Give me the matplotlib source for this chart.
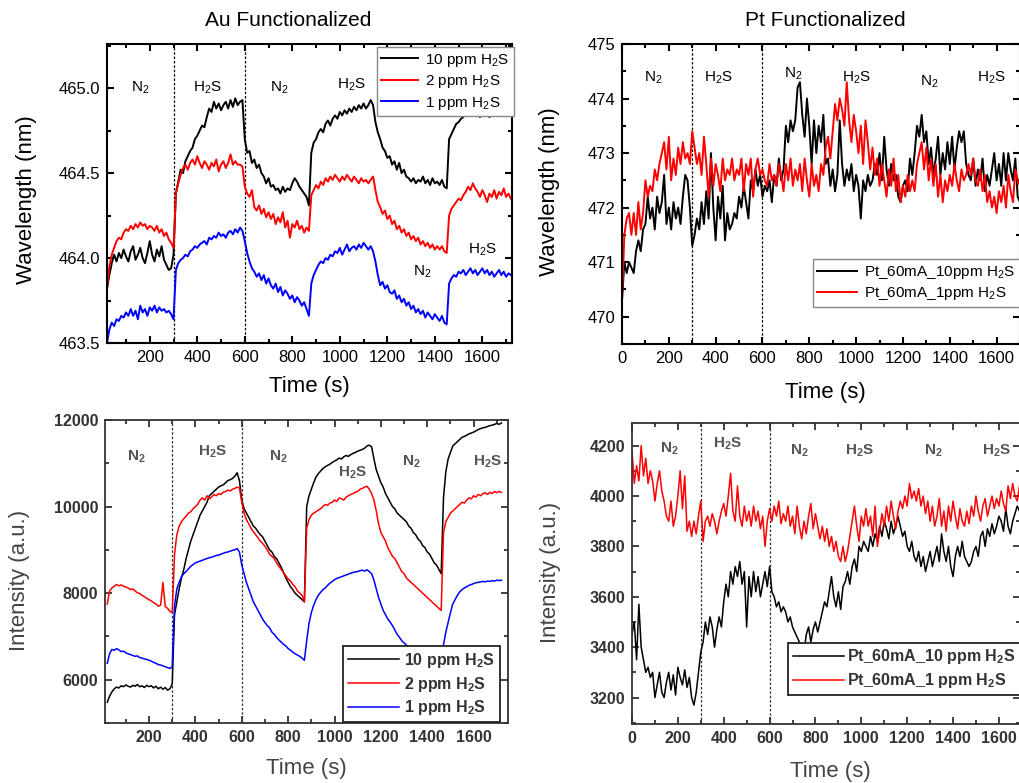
import numpy as np
import matplotlib
matplotlib.use("Agg")
import matplotlib.pyplot as plt
from matplotlib.ticker import MultipleLocator, FormatStrFormatter

plt.rcParams['font.family'] = ['Liberation Sans', 'DejaVu Sans']
plt.rcParams['mathtext.default'] = 'regular'

# ---- data: Au functionalized, wavelength (t = 20..1720 s, step 10) ----
t_au = np.arange(20, 1721, 10)

au_wl_10 = [463.82, 463.90, 463.97, 464.02, 463.98, 464.03, 464.00, 464.05, 464.01, 463.98,
            464.04, 464.07, 463.99, 464.02, 464.06, 464.00, 463.97, 464.03, 464.10, 464.02,
            463.98, 464.05, 464.01, 464.07, 463.99, 463.96, 463.93, 463.94, 464.02, 464.38,
            464.45, 464.52, 464.50, 464.57, 464.60, 464.63, 464.65, 464.70, 464.72, 464.75,
            464.78, 464.77, 464.83, 464.88, 464.86, 464.92, 464.88, 464.91, 464.87, 464.90,
            464.92, 464.88, 464.93, 464.89, 464.94, 464.90, 464.92, 464.93, 464.70, 464.62,
            464.63, 464.56, 464.58, 464.53, 464.55, 464.50, 464.48, 464.44, 464.47, 464.42,
            464.43, 464.40, 464.41, 464.38, 464.42, 464.39, 464.41, 464.40, 464.44, 464.47,
            464.45, 464.42, 464.40, 464.38, 464.36, 464.31, 464.62, 464.68, 464.70, 464.74,
            464.76, 464.74, 464.79, 464.81, 464.78, 464.82, 464.84, 464.82, 464.86, 464.84,
            464.87, 464.85, 464.88, 464.86, 464.89, 464.87, 464.90, 464.88, 464.91, 464.88,
            464.90, 464.93, 464.90, 464.80, 464.74, 464.70, 464.65, 464.63, 464.59, 464.60,
            464.55, 464.57, 464.52, 464.56, 464.50, 464.52, 464.48, 464.47, 464.45, 464.47,
            464.44, 464.46, 464.45, 464.48, 464.44, 464.46, 464.43, 464.47, 464.44, 464.45,
            464.43, 464.46, 464.42, 464.41, 464.70, 464.73, 464.76, 464.79, 464.80, 464.82,
            464.83, 464.85, 464.84, 464.86, 464.85, 464.84, 464.86, 464.83, 464.85, 464.84,
            464.86, 464.83, 464.85, 464.84, 464.86, 464.85, 464.87, 464.84, 464.86, 464.85, 464.86]

au_wl_2 = [463.82, 463.95, 464.02, 464.06, 464.10, 464.12, 464.11, 464.15, 464.17, 464.16,
           464.19, 464.17, 464.20, 464.18, 464.21, 464.19, 464.20, 464.17, 464.19, 464.18,
           464.16, 464.19, 464.15, 464.17, 464.13, 464.15, 464.11, 464.09, 464.06, 464.38,
           464.44, 464.49, 464.53, 464.55, 464.52, 464.56, 464.58, 464.55, 464.60, 464.56,
           464.53, 464.57, 464.55, 464.52, 464.56, 464.54, 464.58, 464.51, 464.55, 464.57,
           464.53, 464.56, 464.61, 464.55, 464.57, 464.55, 464.55, 464.54, 464.42, 464.38,
           464.36, 464.40, 464.30, 464.28, 464.31, 464.26, 464.29, 464.24, 464.27, 464.23,
           464.26, 464.20, 464.24, 464.21, 464.27, 464.18, 464.22, 464.12, 464.20, 464.18,
           464.22, 464.17, 464.19, 464.15, 464.18, 464.16, 464.37, 464.40, 464.43, 464.41,
           464.45, 464.43, 464.47, 464.45, 464.48, 464.46, 464.49, 464.47, 464.45, 464.48,
           464.46, 464.49, 464.47, 464.45, 464.48, 464.46, 464.44, 464.47, 464.45, 464.46,
           464.44, 464.46, 464.48, 464.40, 464.33, 464.30, 464.26, 464.28, 464.23, 464.25,
           464.20, 464.22, 464.17, 464.19, 464.15, 464.17, 464.13, 464.15, 464.11, 464.13,
           464.10, 464.12, 464.08, 464.10, 464.07, 464.09, 464.06, 464.08, 464.05, 464.07,
           464.05, 464.07, 464.04, 464.03, 464.25, 464.29, 464.31, 464.33, 464.35, 464.34,
           464.37, 464.39, 464.42, 464.40, 464.44, 464.41, 464.39, 464.36, 464.40, 464.37,
           464.33, 464.38, 464.36, 464.40, 464.35, 464.39, 464.37, 464.41, 464.36, 464.38, 464.35]

au_wl_1 = [463.50, 463.58, 463.62, 463.60, 463.64, 463.63, 463.66, 463.65, 463.68, 463.66,
           463.70, 463.66, 463.69, 463.64, 463.72, 463.68, 463.70, 463.66, 463.71, 463.69,
           463.72, 463.68, 463.71, 463.69, 463.70, 463.68, 463.69, 463.67, 463.64, 463.93,
           463.97, 463.99, 464.00, 464.02, 464.01, 464.04, 464.05, 464.07, 464.06, 464.08,
           464.09, 464.10, 464.08, 464.12, 464.11, 464.13, 464.12, 464.15, 464.13, 464.14,
           464.12, 464.15, 464.16, 464.14, 464.17, 464.15, 464.18, 464.16, 464.10, 464.03,
           463.98, 463.94, 463.92, 463.89, 463.91, 463.87, 463.90, 463.85, 463.88, 463.84,
           463.82, 463.85, 463.80, 463.83, 463.78, 463.81, 463.79, 463.76, 463.78, 463.74,
           463.77, 463.75, 463.72, 463.74, 463.70, 463.66, 463.85, 463.90, 463.93, 463.96,
           463.98, 463.97, 464.00, 463.99, 464.02, 464.01, 464.04, 464.03, 464.06, 464.02,
           464.05, 464.08, 464.04, 464.06, 464.07, 464.05, 464.08, 464.06, 464.09, 464.07,
           464.05, 464.07, 464.04, 463.98, 463.90, 463.84, 463.86, 463.82, 463.84, 463.80,
           463.79, 463.81, 463.76, 463.78, 463.74, 463.76, 463.72, 463.74, 463.70, 463.72,
           463.68, 463.70, 463.67, 463.69, 463.65, 463.68, 463.66, 463.64, 463.67, 463.65,
           463.63, 463.66, 463.62, 463.61, 463.85, 463.88, 463.90, 463.89, 463.92, 463.91,
           463.93, 463.90, 463.92, 463.94, 463.91, 463.93, 463.90, 463.92, 463.94, 463.91,
           463.93, 463.90, 463.92, 463.89, 463.91, 463.93, 463.90, 463.92, 463.89, 463.91, 463.90]

# ---- data: Au functionalized, intensity (t = 20..1720 s) ----
au_int_10 = [5480, 5620, 5720, 5790, 5830, 5810, 5860, 5840, 5880, 5850,
             5830, 5870, 5850, 5890, 5840, 5860, 5820, 5870, 5840, 5860,
             5810, 5850, 5790, 5830, 5780, 5820, 5760, 5790, 5900, 7500,
             7800, 8100, 8350, 8550, 8800, 9000, 9200, 9350, 9500, 9650,
             9800, 9900, 10000, 10100, 10250, 10300, 10350, 10400, 10450, 10480,
             10500, 10550, 10600, 10620, 10650, 10700, 10780, 10600, 10150, 9950,
             9850, 9750, 9650, 9550, 9500, 9420, 9350, 9300, 9200, 9100,
             9000, 8950, 8850, 8800, 8700, 8600, 8480, 8350, 8250, 8150,
             8080, 8000, 7950, 7900, 7850, 7800, 10000, 10250, 10400, 10550,
             10680, 10760, 10820, 10880, 10920, 10950, 10980, 11020, 11050, 11080,
             11120, 11100, 11150, 11180, 11160, 11200, 11230, 11250, 11280, 11300,
             11320, 11350, 11400, 11420, 11380, 11100, 10850, 10700, 10550, 10450,
             10300, 10200, 10100, 10000, 9950, 9850, 9800, 9750, 9700, 9650,
             9550, 9500, 9400, 9350, 9250, 9200, 9100, 9050, 8950, 8900,
             8800, 8700, 8650, 8550, 8450, 10200, 10800, 11100, 11250, 11400,
             11450, 11500, 11550, 11600, 11620, 11650, 11680, 11700, 11720, 11750,
             11780, 11800, 11820, 11830, 11850, 11870, 11880, 11900, 11920, 11900, 11930]

au_int_2 = [7750, 8050, 8120, 8160, 8200, 8170, 8190, 8160, 8140, 8120,
            8080, 8100, 8050, 8010, 7990, 7950, 7920, 7880, 7850, 7820,
            7780, 7750, 7700, 7720, 8250, 7690, 7650, 7580, 7550, 8900,
            9350, 9550, 9650, 9720, 9780, 9850, 9880, 9950, 10000, 10050,
            10150, 10200, 10150, 10250, 10180, 10220, 10280, 10250, 10300, 10280,
            10330, 10350, 10380, 10360, 10400, 10420, 10450, 10430, 10100, 9850,
            9700, 9600, 9500, 9420, 9350, 9280, 9200, 9150, 9080, 9000,
            8900, 8850, 8800, 8700, 8620, 8550, 8480, 8400, 8330, 8280,
            8200, 8150, 8050, 8000, 7950, 7800, 9500, 9700, 9800, 9850,
            9880, 9920, 9950, 10000, 10050, 10030, 10080, 10100, 10150, 10120,
            10200, 10180, 10150, 10220, 10250, 10280, 10300, 10330, 10350, 10400,
            10420, 10450, 10470, 10400, 10300, 10150, 9900, 9600, 9400, 9300,
            9200, 9050, 8950, 8850, 8800, 8700, 8600, 8500, 8450, 8350,
            8300, 8250, 8200, 8150, 8100, 8050, 8000, 7950, 7900, 7850,
            7800, 7750, 7700, 7650, 7600, 9400, 9650, 9750, 9850, 9900,
            9950, 10000, 10050, 10100, 10080, 10150, 10200, 10180, 10250, 10220,
            10280, 10250, 10300, 10320, 10280, 10330, 10300, 10350, 10320, 10350, 10330]

au_int_1 = [6380, 6600, 6700, 6680, 6720, 6690, 6650, 6660, 6620, 6600,
            6580, 6560, 6540, 6550, 6510, 6500, 6480, 6470, 6450, 6430,
            6400, 6380, 6350, 6340, 6320, 6300, 6280, 6260, 6300, 7700,
            8100, 8250, 8380, 8450, 8500, 8560, 8620, 8660, 8700, 8720,
            8740, 8760, 8780, 8800, 8820, 8830, 8850, 8870, 8880, 8900,
            8920, 8940, 8950, 8970, 8990, 9000, 9030, 8950, 8650, 8450,
            8250, 8100, 7950, 7800, 7700, 7600, 7500, 7400, 7320, 7250,
            7200, 7100, 7050, 6980, 6920, 6870, 6820, 6780, 6720, 6680,
            6640, 6600, 6570, 6540, 6500, 6450, 6900, 7300, 7550, 7720,
            7850, 7950, 8020, 8080, 8120, 8180, 8230, 8270, 8310, 8340,
            8360, 8380, 8400, 8420, 8440, 8460, 8480, 8490, 8500, 8520,
            8530, 8510, 8540, 8500, 8450, 8300, 8100, 7900, 7750, 7600,
            7500, 7400, 7330, 7250, 7150, 7050, 6980, 6900, 6850, 6800,
            6750, 6700, 6650, 6600, 6560, 6520, 6480, 6440, 6400, 6380,
            6350, 6320, 6300, 6280, 6260, 6800, 7100, 7330, 7550, 7750,
            7850, 7950, 8030, 8080, 8120, 8150, 8180, 8200, 8220, 8240,
            8250, 8260, 8270, 8260, 8280, 8270, 8290, 8280, 8300, 8290, 8300]

# ---- data: Pt functionalized (t = 0..1700 s, step 10) ----
t_pt = np.arange(0, 1701, 10)

pt_wl_10 = [470.3, 471.0, 470.8, 471.0, 470.9, 470.8, 471.2, 471.4, 471.2, 471.6,
            471.7, 472.2, 471.8, 472.0, 471.6, 472.2, 471.9, 472.1, 472.6, 471.7,
            472.0, 471.6, 472.1, 471.8, 472.0, 471.7, 472.2, 472.6, 472.5, 472.0,
            471.3, 471.5, 471.8, 471.6, 472.1, 471.7, 472.3, 471.8, 473.0, 472.0,
            471.4, 472.2, 471.8, 472.4, 471.4, 471.9, 471.6, 471.7, 471.9, 471.8,
            472.2, 472.0, 472.4, 472.1, 471.8, 472.5, 472.3, 472.7, 472.4, 472.6,
            472.2, 472.4, 472.3, 472.5, 472.1, 472.6, 472.4, 472.9, 472.5, 472.7,
            473.5, 473.2, 473.6, 473.4, 473.6, 474.2, 474.3, 473.7, 473.3, 474.0,
            473.5, 472.8, 473.6, 473.0, 473.5, 473.2, 473.7, 472.8, 472.9, 472.4,
            472.7, 472.3, 472.6, 473.6, 472.8, 472.4, 472.7, 472.5, 472.8, 472.3,
            472.6, 472.4, 471.8, 472.5, 472.3, 472.6, 472.4, 472.5, 472.8, 472.6,
            473.0, 472.5, 473.3, 472.7, 472.4, 472.8, 472.5, 472.6, 472.2, 472.1,
            472.4, 472.5, 472.3, 472.9, 472.6, 473.0, 473.5, 473.3, 473.7, 473.2,
            473.4, 472.8, 473.1, 472.6, 472.9, 473.3, 472.6, 473.0, 472.7, 473.2,
            472.8, 473.3, 472.7, 473.1, 473.4, 473.2, 473.4, 472.8, 472.6, 472.5,
            472.9, 472.4, 472.7, 472.5, 472.9, 472.3, 472.6, 472.4, 472.7, 473.0,
            472.5, 472.8, 472.4, 473.0, 472.5, 473.0, 472.7, 472.5, 472.9, 472.2, 472.1]

pt_wl_1 = [470.3, 471.5, 471.8, 471.9, 471.5, 471.9, 471.5, 472.1, 471.6, 471.9,
           472.5, 472.2, 472.4, 472.3, 472.7, 472.5, 472.8, 473.0, 473.2, 472.7,
           473.3, 472.5, 472.9, 472.6, 473.1, 472.8, 473.2, 472.9, 473.0, 472.8,
           473.4, 473.1, 472.8, 473.0, 472.6, 473.3, 472.8, 472.2, 472.9, 472.4,
           472.8, 472.6, 472.3, 472.9, 472.5, 472.7, 472.6, 472.9, 472.5, 472.7,
           472.6, 472.9, 472.3, 472.8, 472.6, 472.9, 472.2, 472.7, 472.9, 472.6,
           472.7, 472.5, 472.4, 472.8, 472.5, 472.6, 472.4, 472.8, 472.6, 472.3,
           472.8, 472.5, 472.9, 472.4, 472.7, 472.5, 472.8, 472.3, 472.9, 472.5,
           472.2, 472.8, 472.4, 472.6, 472.3, 472.8, 472.6, 473.1, 473.3, 472.9,
           473.4, 473.9, 473.6, 474.0, 473.8, 473.5, 474.3, 473.6, 473.2, 473.7,
           473.4, 473.0, 473.5, 472.8, 473.6, 473.2, 472.7, 473.1, 472.6, 472.9,
           472.4, 472.8, 472.5, 472.2, 472.7, 472.4, 472.9, 472.3, 472.6, 472.1,
           472.4, 472.2, 472.6, 472.3, 472.5, 472.3, 472.8, 473.0, 473.2, 472.7,
           473.1, 472.5, 472.9, 472.4, 472.8, 472.2, 472.6, 472.1, 472.5, 472.3,
           472.6, 472.4, 472.8, 472.5, 472.3, 472.7, 472.5, 472.6, 472.8, 472.6,
           472.9, 472.5, 472.4, 472.7, 472.3, 472.6, 472.1, 472.3, 472.0, 472.2,
           471.9, 472.3, 472.1, 472.4, 472.0, 472.6, 472.3, 472.1, 472.7, 472.5, 472.4]

pt_int_10 = [3450, 3500, 3350, 3570, 3400, 3350, 3300, 3320, 3280, 3300,
             3200, 3250, 3300, 3220, 3200, 3260, 3300, 3230, 3290, 3210,
             3320, 3280, 3250, 3310, 3240, 3280, 3200, 3170, 3220, 3300,
             3380, 3420, 3500, 3450, 3520, 3480, 3400, 3470, 3520, 3480,
             3580, 3650, 3600, 3700, 3650, 3720, 3680, 3740, 3650, 3700,
             3480, 3680, 3600, 3700, 3620, 3680, 3600, 3650, 3700, 3640,
             3720, 3620, 3600, 3560, 3580, 3540, 3560, 3540, 3500, 3520,
             3480, 3460, 3440, 3420, 3400, 3380, 3450, 3480, 3420, 3470,
             3500, 3460, 3500, 3540, 3580, 3560, 3620, 3680, 3600, 3560,
             3620, 3550, 3640, 3660, 3700, 3650, 3720, 3750, 3700, 3800,
             3780, 3820, 3800, 3780, 3840, 3800, 3850, 3820, 3880, 3840,
             3900, 3870, 3830, 3900, 3850, 3880, 3920, 3880, 3840, 3860,
             3800, 3780, 3820, 3760, 3740, 3780, 3720, 3760, 3700, 3740,
             3780, 3720, 3760, 3800, 3740, 3850, 3780, 3740, 3800, 3720,
             3680, 3760, 3800, 3760, 3820, 3760, 3740, 3720, 3740, 3780,
             3800, 3760, 3840, 3860, 3800, 3870, 3840, 3890, 3850, 3880,
             3920, 3900, 3860, 3950, 3880, 3850, 3900, 3930, 3960, 3940, 3970]

pt_int_1 = [4180, 4050, 4120, 4060, 4200, 4080, 4150, 4050, 4100, 4060,
            3980, 4050, 4100, 4020, 3980, 3920, 3900, 3980, 3880, 3920,
            4000, 4100, 3950, 4080, 3860, 3900, 3840, 3900, 3850, 3920,
            3980, 3820, 3900, 3920, 3880, 3930, 3900, 3850, 3900, 3940,
            3970, 3920, 4000, 4090, 3940, 3900, 4040, 3920, 3880, 3960,
            3900, 3940, 3880, 3960, 3900, 3940, 3870, 3920, 3800, 3900,
            3950, 3900, 3960, 3920, 3980, 3890, 3930, 3900, 3960, 3880,
            3920, 3850, 3960, 3880, 3830, 3900, 3850, 3920, 3970, 3870,
            3930, 3880, 3830, 3880, 3820, 3870, 3800, 3840, 3780, 3820,
            3760, 3740, 3800, 3740, 3780, 3840, 3900, 3960, 3880, 3820,
            3920, 3880, 3950, 3880, 3920, 3840, 3960, 3800, 3860, 3930,
            3880, 3960, 3900, 3980, 3920, 3870, 3940, 3980, 3950, 4000,
            3960, 4050, 3990, 4020, 3980, 4030, 3960, 4000, 3930, 3980,
            3900, 3960, 3880, 3920, 3990, 3880, 3940, 3860, 3960, 3900,
            3980, 3920, 3870, 3950, 3900, 3880, 3940, 3890, 3960, 3920,
            4000, 3940, 3900, 3960, 3990, 3920, 3960, 4000, 3950, 3990,
            3960, 4020, 3970, 3940, 4040, 3990, 4050, 4000, 3980, 4040, 4020]

au_labels = ['10 ppm H$_2$S', '2 ppm H$_2$S', '1 ppm H$_2$S']
pt_wl_labels = ['Pt_60mA_10ppm H$_2$S', 'Pt_60mA_1ppm H$_2$S']
pt_int_labels = ['Pt_60mA_10 ppm H$_2$S', 'Pt_60mA_1 ppm H$_2$S']

# gas annotations: (time, value, text)
ann_au_wl = [(158, 465.0, 'N$_2$'), (444, 465.0, 'H$_2$S'), (747, 465.0, 'N$_2$'),
             (1051, 465.02, 'H$_2$S'), (1348, 463.92, 'N$_2$'), (1601, 464.05, 'H$_2$S')]
ann_pt_wl = [(132, 474.38, 'N$_2$'), (413, 474.38, 'H$_2$S'), (732, 474.45, 'N$_2$'),
             (1000, 474.38, 'H$_2$S'), (1314, 474.3, 'N$_2$'), (1580, 474.38, 'H$_2$S')]
ann_au_int = [(144, 11140, 'N$_2$'), (474, 11260, 'H$_2$S'), (757, 11140, 'N$_2$'),
              (1076, 10770, 'H$_2$S'), (1333, 11030, 'N$_2$'), (1659, 11030, 'H$_2$S')]
ann_pt_int = [(162, 4187, 'N$_2$'), (415, 4207, 'H$_2$S'), (729, 4180, 'N$_2$'),
              (991, 4180, 'H$_2$S'), (1313, 4180, 'N$_2$'), (1588, 4180, 'H$_2$S')]

fig = plt.figure(figsize=(10.2, 7.83), dpi=100)
ax1 = fig.add_axes([0.1049, 0.5619, 0.3971, 0.3819])
ax2 = fig.add_axes([0.6098, 0.5607, 0.3902, 0.3831])
ax3 = fig.add_axes([0.1029, 0.0766, 0.3951, 0.3870])
ax4 = fig.add_axes([0.6196, 0.0754, 0.3804, 0.3844])


def style(ax, xlim, ylim, ymaj, ymin, fmt, col, bold, lw, size):
    ax.set_xlim(*xlim)
    ax.set_ylim(*ylim)
    ax.xaxis.set_major_locator(MultipleLocator(200))
    ax.xaxis.set_minor_locator(MultipleLocator(100))
    ax.yaxis.set_major_locator(MultipleLocator(ymaj))
    ax.yaxis.set_minor_locator(MultipleLocator(ymin))
    ax.yaxis.set_major_formatter(FormatStrFormatter(fmt))
    ax.tick_params(which='both', direction='in', top=True, right=True,
                   colors=col, width=lw, labelsize=size, pad=5)
    ax.tick_params(which='major', length=5)
    ax.tick_params(which='minor', length=3)
    for lab in ax.get_xticklabels() + ax.get_yticklabels():
        lab.set_fontweight('bold' if bold else 'normal')
    for s in ax.spines.values():
        s.set_linewidth(lw)
        s.set_color(col)
    for xv in (300, 600):
        ax.axvline(xv, color=col, ls=(0, (2, 1.5)), lw=0.9, zorder=1)


def annotate(ax, items, col, weight):
    for x, y, s in items:
        ax.text(x, y, s, ha='center', va='center', fontsize=11, color=col,
                fontweight=weight)


# --- Au wavelength ---
for y, c, lab in zip([au_wl_10, au_wl_2, au_wl_1], ['black', 'red', 'blue'], au_labels):
    ax1.plot(t_au, y, color=c, lw=1.4, label=lab)
style(ax1, (20, 1725), (463.5, 465.26), 0.5, 0.25, '%.1f', 'black', False, 1.5, 12)
annotate(ax1, ann_au_wl, 'black', 'normal')
ax1.set_xlabel('Time (s)', fontsize=16, va='center')
ax1.set_ylabel('Wavelength (nm)', fontsize=16, va='center')
ax1.xaxis.set_label_coords(0.5, -0.147)
ax1.yaxis.set_label_coords(-0.198, 0.478)
ax1.text(0.447, 1.077, 'Au Functionalized', transform=ax1.transAxes,
         ha='center', va='center', fontsize=15)
ax1.legend(loc='upper right', bbox_to_anchor=(1.005, 0.99), fontsize=11,
           frameon=True, fancybox=False, edgecolor='#888888', framealpha=1,
           borderaxespad=0, handlelength=2.4, handletextpad=0.5,
           borderpad=0.3, labelspacing=0.3)

# --- Pt wavelength ---
for y, c, lab in zip([pt_wl_10, pt_wl_1], ['black', 'red'], pt_wl_labels):
    ax2.plot(t_pt, y, color=c, lw=1.4, label=lab)
style(ax2, (0, 1700), (469.5, 475), 1, 0.5, '%d', 'black', False, 1.5, 12)
annotate(ax2, ann_pt_wl, 'black', 'normal')
ax2.set_xlabel('Time (s)', fontsize=16, va='center')
ax2.set_ylabel('Wavelength (nm)', fontsize=16, va='center')
ax2.xaxis.set_label_coords(0.51, -0.163)
ax2.yaxis.set_label_coords(-0.181, 0.507)
ax2.text(0.51, 1.077, 'Pt Functionalized', transform=ax2.transAxes,
         ha='center', va='center', fontsize=15)
ax2.legend(loc='lower right', bbox_to_anchor=(1.0, 0.123), fontsize=11,
           frameon=True, fancybox=False, edgecolor='#888888', framealpha=1,
           borderaxespad=0, handlelength=2.6, handletextpad=0.5,
           borderpad=0.3, labelspacing=0.3)

# --- Au intensity ---
grey = '#333333'
for y, c, lab in zip([au_int_10, au_int_2, au_int_1], ['black', 'red', 'blue'], au_labels):
    ax3.plot(t_au, y, color=c, lw=1.1, label=lab)
style(ax3, (10, 1748), (5000, 12000), 2000, 1000, '%d', grey, True, 1.3, 11.5)
annotate(ax3, ann_au_int, '#555555', 'bold')
ax3.set_xlabel('Time (s)', fontsize=16, color='#444444', va='center')
ax3.set_ylabel('Intensity (a.u.)', fontsize=16, va='center', color='#444444')
ax3.xaxis.set_label_coords(0.499, -0.149)
ax3.yaxis.set_label_coords(-0.211, 0.472)
leg3 = ax3.legend(loc='lower right', bbox_to_anchor=(0.98, 0.003), fontsize=11.5,
                  frameon=True, fancybox=False, edgecolor='#222222', framealpha=1,
                  borderaxespad=0, handlelength=3.2, handletextpad=0.3,
                  borderpad=0.3, labelspacing=0.3)
leg3.get_frame().set_linewidth(1.3)
for tx in leg3.get_texts():
    tx.set_color('#333333')
    tx.set_fontweight('bold')

# --- Pt intensity ---
for y, c, lab in zip([pt_int_10, pt_int_1], ['black', 'red'], pt_int_labels):
    ax4.plot(t_pt, y, color=c, lw=1.1, label=lab)
style(ax4, (0, 1692), (3095, 4290), 200, 100, '%d', grey, True, 1.3, 11.5)
annotate(ax4, ann_pt_int, '#555555', 'bold')
ax4.set_xlabel('Time (s)', fontsize=16, color='#444444', va='center')
ax4.set_ylabel('Intensity (a.u.)', fontsize=16, va='center', color='#444444')
ax4.xaxis.set_label_coords(0.51, -0.159)
ax4.yaxis.set_label_coords(-0.211, 0.502)
leg4 = ax4.legend(loc='lower right', bbox_to_anchor=(1.0, 0.096), fontsize=11.5,
                  frameon=True, fancybox=False, edgecolor='#222222', framealpha=1,
                  borderaxespad=0, handlelength=3.2, handletextpad=0.2,
                  borderpad=0.3, labelspacing=0.3)
leg4.get_frame().set_linewidth(1.3)
for tx in leg4.get_texts():
    tx.set_color('#333333')
    tx.set_fontweight('bold')

fig.savefig('out.png', dpi=100)
